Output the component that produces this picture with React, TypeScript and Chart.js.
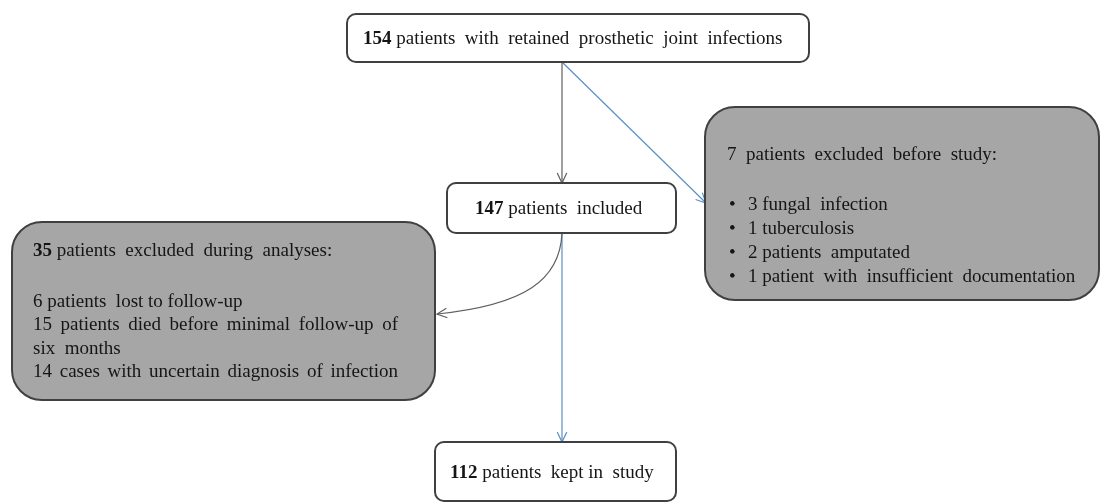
import React, { useEffect, useRef } from "react";
import { Chart, registerables } from "chart.js";

Chart.register(...registerables);

// ---- data ----
const counts = [154, 147, 7, 35, 112];
const countBold = [true, true, false, true, true];
const titles = [
  "patients  with  retained  prosthetic  joint  infections",
  "patients  included",
  "patients  excluded  before  study:",
  "patients  excluded  during  analyses:",
  "patients  kept in  study",
];
const excludedBeforeItems = [
  "3 fungal  infection",
  "1 tuberculosis",
  "2 patients  amputated",
  "1 patient  with  insufficient  documentation",
];
const excludedDuringItems = [
  "6 patients  lost to follow-up",
  "15 patients  died before minimal  follow-up  of",
  "six  months",
  "14 cases with uncertain  diagnosis  of infection",
];

// ---- layout (in scale units; x: 0..1102, y: 0..503 top-down) ----
const W = 1102;
const H = 503;
const boxes = [
  { x0: 347, y0: 14, x1: 809, y1: 62, r: 9, fill: "#ffffff", tx: 363, ty: 39 },
  { x0: 447, y0: 183, x1: 676, y1: 233, r: 9, fill: "#ffffff", tx: 475, ty: 209 },
  { x0: 705, y0: 107, x1: 1099, y1: 300, r: 30, fill: "#a6a6a6", tx: 727, ty: 155 },
  { x0: 12, y0: 222, x1: 435, y1: 400, r: 30, fill: "#a6a6a6", tx: 33, ty: 251 },
  { x0: 435, y0: 442, x1: 676, y1: 501, r: 9, fill: "#ffffff", tx: 450, ty: 473 },
];
const beforeListY = [205, 229, 253, 277];
const duringListY = [302, 325, 349, 372];
const duringJustifyRight = [0, 398, 0, 398];
const GREY = "#5f5f5f";
const BLUE = "#5b8fc4";

const arrowSegments = [
  { from: { x: 562, y: 62 }, to: { x: 562, y: 183 }, color: GREY },
  { from: { x: 562, y: 62 }, to: { x: 706, y: 203 }, color: BLUE },
  { from: { x: 562, y: 233 }, to: { x: 562, y: 442 }, color: BLUE },
];
const curve = {
  p0: { x: 562, y: 233 },
  c1: { x: 560, y: 280 },
  c2: { x: 525, y: 305 },
  p1: { x: 437, y: 314 },
  color: GREY,
};

const FONT = '"Liberation Serif", "Times New Roman", serif';
const FS = 19;

function setSpacing(ctx: any, v: string) {
  if ("wordSpacing" in ctx) ctx.wordSpacing = v;
}

function drawRun(ctx: CanvasRenderingContext2D, parts: { t: string; b?: boolean }[], x: number, y: number) {
  let cx = x;
  for (const p of parts) {
    ctx.font = `${p.b ? "bold " : ""}${FS}px ${FONT}`;
    ctx.fillText(p.t, cx, y);
    cx += ctx.measureText(p.t).width;
  }
}

function drawJustified(ctx: CanvasRenderingContext2D, text: string, x: number, y: number, right: number) {
  const words = text.split(/\s+/).filter((w) => w.length);
  setSpacing(ctx, "0px");
  const widths = words.map((w) => ctx.measureText(w).width);
  const total = widths.reduce((a, b) => a + b, 0);
  const gap = (right - x - total) / Math.max(1, words.length - 1);
  let cx = x;
  words.forEach((w, i) => {
    ctx.fillText(w, cx, y);
    cx += widths[i] + gap;
  });
  setSpacing(ctx, "3px");
}

function roundRect(ctx: CanvasRenderingContext2D, x0: number, y0: number, x1: number, y1: number, r: number) {
  ctx.beginPath();
  ctx.moveTo(x0 + r, y0);
  ctx.lineTo(x1 - r, y0);
  ctx.arcTo(x1, y0, x1, y0 + r, r);
  ctx.lineTo(x1, y1 - r);
  ctx.arcTo(x1, y1, x1 - r, y1, r);
  ctx.lineTo(x0 + r, y1);
  ctx.arcTo(x0, y1, x0, y1 - r, r);
  ctx.lineTo(x0, y0 + r);
  ctx.arcTo(x0, y0, x0 + r, y0, r);
  ctx.closePath();
}

function arrowHead(ctx: CanvasRenderingContext2D, tipX: number, tipY: number, angle: number, color: string) {
  const len = 11;
  const spread = Math.PI / 7;
  ctx.save();
  ctx.strokeStyle = color;
  ctx.lineWidth = 1.2;
  ctx.beginPath();
  ctx.moveTo(tipX - len * Math.cos(angle - spread), tipY - len * Math.sin(angle - spread));
  ctx.lineTo(tipX, tipY);
  ctx.lineTo(tipX - len * Math.cos(angle + spread), tipY - len * Math.sin(angle + spread));
  ctx.stroke();
  ctx.restore();
}

const flowPlugin = {
  id: "flow",
  afterDatasetsDraw(chart: any) {
    const ctx: CanvasRenderingContext2D = chart.ctx;
    const xs = chart.scales.x;
    const ys = chart.scales.y;
    const px = (v: number) => xs.getPixelForValue(v);
    const py = (v: number) => ys.getPixelForValue(v);

    // curve
    ctx.save();
    ctx.strokeStyle = curve.color;
    ctx.lineWidth = 1.2;
    ctx.beginPath();
    ctx.moveTo(px(curve.p0.x), py(curve.p0.y));
    ctx.bezierCurveTo(px(curve.c1.x), py(curve.c1.y), px(curve.c2.x), py(curve.c2.y), px(curve.p1.x), py(curve.p1.y));
    ctx.stroke();
    ctx.restore();
    arrowHead(
      ctx,
      px(curve.p1.x),
      py(curve.p1.y),
      Math.atan2(py(curve.p1.y) - py(curve.c2.y), px(curve.p1.x) - px(curve.c2.x)),
      curve.color
    );

    // arrowheads for straight segments
    for (const s of arrowSegments) {
      const a = Math.atan2(py(s.to.y) - py(s.from.y), px(s.to.x) - px(s.from.x));
      arrowHead(ctx, px(s.to.x), py(s.to.y), a, s.color);
    }

    // boxes
    boxes.forEach((b) => {
      ctx.save();
      roundRect(ctx, px(b.x0), py(b.y0), px(b.x1), py(b.y1), b.r);
      ctx.fillStyle = b.fill;
      ctx.fill();
      ctx.strokeStyle = "#404040";
      ctx.lineWidth = 2;
      ctx.stroke();
      ctx.restore();
    });

    // texts
    ctx.save();
    ctx.fillStyle = "#151515";
    ctx.textBaseline = "middle";
    ctx.textAlign = "left";
    setSpacing(ctx, "3px");
    boxes.forEach((b, i) => {
      const parts: { t: string; b?: boolean }[] = [
        { t: String(counts[i]), b: countBold[i] },
        { t: (countBold[i] ? " " : "  ") + titles[i] },
      ];
      drawRun(ctx, parts, px(b.tx), py(b.ty));
    });
    const b7 = boxes[2];
    excludedBeforeItems.forEach((t, k) => {
      ctx.font = `${FS}px ${FONT}`;
      ctx.fillText("•", px(b7.tx + 2), py(beforeListY[k]));
      ctx.fillText(t, px(b7.tx + 21), py(beforeListY[k]));
    });
    const b35 = boxes[3];
    excludedDuringItems.forEach((t, k) => {
      ctx.font = `${FS}px ${FONT}`;
      if (duringJustifyRight[k]) {
        drawJustified(ctx, t, px(b35.tx), py(duringListY[k]), px(duringJustifyRight[k]));
      } else {
        ctx.fillText(t, px(b35.tx), py(duringListY[k]));
      }
    });
    ctx.restore();
  },
};

export default function App() {
  const ref = useRef<HTMLCanvasElement | null>(null);
  useEffect(() => {
    document.body.style.margin = "0";
    document.body.style.background = "#ffffff";
    const chart = new Chart(ref.current as HTMLCanvasElement, {
      type: "scatter",
      data: {
        datasets: arrowSegments.map((s) => ({
          data: [s.from, s.to],
          showLine: true,
          borderColor: s.color,
          borderWidth: 1.2,
          pointRadius: 0,
          fill: false,
        })),
      },
      options: {
        animation: false,
        responsive: true,
        maintainAspectRatio: false,
        layout: { padding: 0 },
        plugins: { legend: { display: false }, tooltip: { enabled: false } },
        scales: {
          x: { type: "linear", min: 0, max: W, display: false },
          y: { type: "linear", min: 0, max: H, reverse: true, display: false },
        },
      },
      plugins: [flowPlugin],
    } as any);
    return () => chart.destroy();
  }, []);
  return (
    <div style={{ position: "absolute", left: 0, top: 0, width: W, height: H }}>
      <canvas ref={ref} />
    </div>
  );
}
